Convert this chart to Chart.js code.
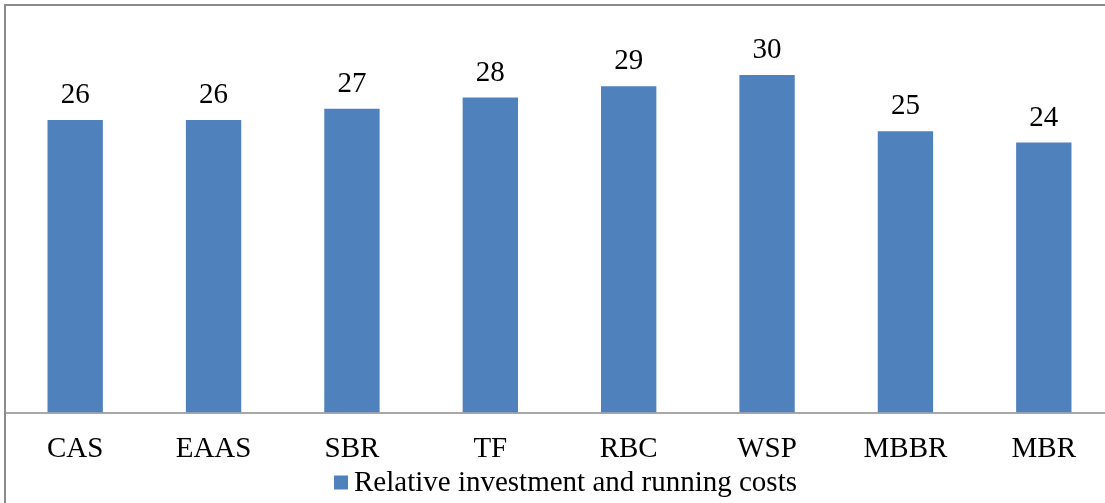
<!DOCTYPE html>
<html>
<head>
<meta charset="utf-8">
<script src="https://cdn.jsdelivr.net/npm/chart.js@4/dist/chart.umd.min.js"></script>
<style>
  html, body { margin: 0; padding: 0; background: #fff; overflow: hidden; width: 1105px; height: 503px; }
  #wrap { position: relative; width: 1105px; height: 503px; overflow: hidden; }
  #c { position: absolute; left: 0; top: 0; }
  #frame { position: absolute; left: 4px; top: 4px; width: 1200px; height: 600px;
           border-left: 2px solid #8a8a8a; border-top: 2px solid #8a8a8a; pointer-events: none; }
</style>
</head>
<body>
<div id="wrap">
  <canvas id="c" width="1113" height="503"></canvas>
  <div id="frame"></div>
</div>
<script>
const categories = ['CAS', 'EAAS', 'SBR', 'TF', 'RBC', 'WSP', 'MBBR', 'MBR'];
const costs = [26, 26, 27, 28, 29, 30, 25, 24];
const seriesName = 'Relative investment and running costs';

const FONT = '"Liberation Serif", "Times New Roman", serif';
const FONT_SIZE = 29;
const BAR = '#4f81bd';

// Writes each bar's value above it
const valueLabels = {
  id: 'valueLabels',
  afterDatasetsDraw(chart) {
    const ctx = chart.ctx;
    const meta = chart.getDatasetMeta(0);
    const values = chart.data.datasets[0].data;
    ctx.save();
    ctx.font = FONT_SIZE + 'px ' + FONT;
    ctx.fillStyle = '#000';
    ctx.textAlign = 'center';
    ctx.textBaseline = 'alphabetic';
    meta.data.forEach((bar, i) => {
      ctx.fillText(String(values[i]), bar.x, bar.y - 17);
    });
    ctx.restore();
  }
};

// Compact legend under the category labels: square swatch followed by the series name
const compactLegend = {
  id: 'compactLegend',
  afterDraw(chart) {
    const ctx = chart.ctx;
    const ds = chart.data.datasets[0];
    const swatch = 14, gap = 6;
    ctx.save();
    ctx.font = FONT_SIZE + 'px ' + FONT;
    const textW = ctx.measureText(ds.label).width;
    const totalW = swatch + gap + textW;
    const cx = (chart.chartArea.left + 1105) / 2 + 10;
    const x0 = cx - totalW / 2;
    const yMid = 482.5;
    ctx.fillStyle = ds.backgroundColor;
    ctx.fillRect(x0, yMid - swatch / 2, swatch, swatch);
    ctx.fillStyle = '#000';
    ctx.textAlign = 'left';
    ctx.textBaseline = 'middle';
    ctx.fillText(ds.label, x0 + swatch + gap, yMid + 1);
    ctx.restore();
  }
};

new Chart(document.getElementById('c'), {
  type: 'bar',
  data: {
    labels: categories,
    datasets: [{
      label: seriesName,
      data: costs,
      backgroundColor: BAR,
      borderWidth: 0,
      categoryPercentage: 1.0,
      barPercentage: 0.4
    }]
  },
  options: {
    responsive: false,
    animation: false,
    layout: { padding: { left: 6, right: 0, top: 7.5, bottom: 42.5 } },
    plugins: {
      tooltip: { enabled: false },
      legend: { display: false }
    },
    scales: {
      x: {
        grid: { display: false, drawTicks: false },
        border: { display: true, color: '#a8a8a8', width: 2 },
        ticks: {
          font: { family: FONT, size: FONT_SIZE },
          color: '#000',
          padding: 19,
          maxRotation: 0
        },
        afterFit(scale) { scale.height = 48; }
      },
      y: {
        display: false,
        min: 0,
        max: 36
      }
    }
  },
  plugins: [valueLabels, compactLegend]
});
</script>
</body>
</html>
